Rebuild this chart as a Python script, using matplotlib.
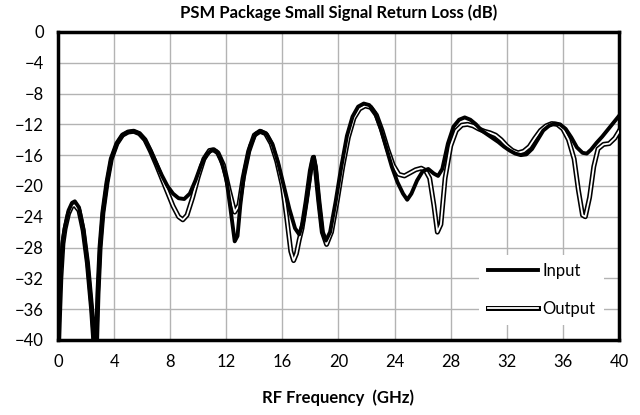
import matplotlib
matplotlib.use('Agg')
import matplotlib.pyplot as plt
import matplotlib.patheffects as pe

plt.rcParams['font.family'] = ['Lato', 'DejaVu Sans']

# Input return loss (dB) vs frequency (GHz)
freq_in = [0.05, 0.1, 0.2, 0.35, 0.5, 0.75, 1.0, 1.2, 1.5, 1.8, 2.1, 2.4, 2.55,
           2.75, 2.85, 3.0, 3.2, 3.5, 3.8, 4.2, 4.6, 5.0, 5.4, 5.8, 6.2, 6.6,
           7.0, 7.4, 7.8, 8.2, 8.6, 9.0, 9.4, 9.8, 10.2, 10.6, 11.0, 11.3, 11.6,
           12.0, 12.3, 12.6, 12.8, 13.0, 13.3, 13.7, 14.1, 14.5, 14.9, 15.3,
           15.7, 16.1, 16.5, 16.9, 17.2, 17.5, 17.8, 18.1, 18.25, 18.4, 18.6,
           18.85, 19.1, 19.4, 19.8, 20.2, 20.6, 21.0, 21.4, 21.8, 22.2, 22.6,
           23.0, 23.4, 23.8, 24.2, 24.6, 24.9, 25.2, 25.6, 26.0, 26.4, 26.8,
           27.1, 27.4, 27.8, 28.2, 28.6, 29.0, 29.4, 29.8, 30.2, 30.6, 31.0,
           31.4, 31.8, 32.2, 32.6, 33.0, 33.4, 33.8, 34.2, 34.6, 35.0, 35.4,
           35.8, 36.2, 36.6, 37.0, 37.4, 37.7, 38.0, 38.4, 38.8, 39.2, 39.6, 40.0]
input_db = [-40, -36, -31, -27, -25.3, -23.2, -22.2, -22.0, -22.8, -25.5, -30, -36, -40,
            -40, -34, -28, -23.5, -19.5, -16.5, -14.5, -13.4, -13.0, -12.9, -13.2, -14.0, -15.4,
            -17.0, -18.6, -20.0, -21.0, -21.6, -21.7, -21.0, -19.3, -17.3, -15.9, -15.3, -15.5, -16.5,
            -19.0, -23.0, -27.2, -26.5, -22.5, -18.0, -14.8, -13.2, -12.9, -13.3, -14.6,
            -17.0, -20.0, -23.0, -25.5, -26.3, -24.5, -21.0, -17.0, -16.2, -18.0, -22.0,
            -26.0, -27.1, -26.0, -22.0, -17.5, -13.5, -11.0, -9.7, -9.3, -9.5, -10.5,
            -12.5, -15.0, -17.5, -19.5, -21.0, -21.8, -21.0, -19.3, -18.1, -17.8, -18.4,
            -18.7, -17.8, -14.5, -12.3, -11.4, -11.1, -11.4, -12.0, -12.8, -13.3, -13.8,
            -14.3, -14.9, -15.4, -15.8, -16.0, -15.9, -15.2, -14.0, -12.8, -12.2, -11.9,
            -12.0, -12.6, -13.7, -15.0, -15.7, -15.8, -15.3, -14.4, -13.6, -12.7, -11.8, -10.9]

# Output return loss (dB) vs frequency (GHz)
freq_out = [0.05, 0.1, 0.2, 0.35, 0.5, 0.75, 1.0, 1.2, 1.5, 1.8, 2.1, 2.4, 2.55,
            2.75, 2.85, 3.0, 3.2, 3.5, 3.8, 4.2, 4.6, 5.0, 5.4, 5.8, 6.2, 6.6,
            7.0, 7.4, 7.8, 8.2, 8.6, 8.9, 9.2, 9.6, 10.0, 10.4, 10.8, 11.1, 11.4,
            11.8, 12.2, 12.6, 12.9, 13.2, 13.6, 14.0, 14.4, 14.8, 15.2, 15.6,
            16.0, 16.3, 16.6, 16.8, 17.0, 17.2, 17.4, 17.7, 18.0, 18.2, 18.35,
            18.6, 18.85, 19.15, 19.5, 19.9, 20.3, 20.7, 21.1, 21.5, 21.9, 22.3,
            22.7, 23.1, 23.5, 23.9, 24.3, 24.7, 25.1, 25.5, 25.9, 26.2, 26.5,
            26.8, 27.05, 27.3, 27.6, 28.0, 28.4, 28.8, 29.2, 29.6, 30.0, 30.4,
            30.8, 31.2, 31.6, 32.0, 32.4, 32.8, 33.2, 33.6, 34.0, 34.4, 34.8,
            35.2, 35.6, 36.0, 36.4, 36.8, 37.1, 37.4, 37.6, 37.9, 38.2, 38.5,
            38.9, 39.3, 39.7, 40.0]
output_db = [-40, -37, -32, -27.5, -25.6, -23.6, -22.6, -22.5, -23.2, -25.8, -30, -36, -40,
             -40, -34, -28, -23.5, -19.5, -16.5, -14.5, -13.4, -13.0, -12.9, -13.2, -14.0, -15.5,
             -17.2, -19.0, -20.8, -22.6, -24.0, -24.4, -23.8, -21.5, -18.8, -16.5, -15.4, -15.3, -15.7,
             -17.3, -20.5, -23.4, -22.5, -19.0, -15.5, -13.4, -12.9, -13.2, -14.5, -16.8,
             -20.0, -24.0, -28.5, -29.7, -28.8, -27.0, -25.5, -22.0, -18.0, -16.3, -17.5,
             -22.0, -26.0, -27.6, -26.0, -22.0, -17.5, -13.7, -11.2, -10.0, -9.6, -9.8,
             -10.8, -12.8, -15.2, -17.3, -18.5, -18.7, -18.3, -17.9, -17.7, -18.0, -19.0,
             -22.5, -26.0, -25.0, -19.0, -14.8, -12.8, -12.1, -12.0, -12.2, -12.6, -12.9,
             -13.1, -13.4, -14.0, -14.8, -15.4, -15.7, -15.5, -14.9, -13.8, -12.8, -12.2,
             -11.9, -12.0, -12.6, -14.0, -16.5, -20.5, -23.8, -24.0, -21.5, -17.5, -15.2,
             -14.6, -14.5, -13.8, -12.9]

fig = plt.figure(figsize=(6.4, 4.15), dpi=100)
ax = fig.add_axes([0.0906, 0.181, 0.8766, 0.742])

ax.plot(freq_in, input_db, color='black', linewidth=2.8, label='Input', zorder=4)
ax.plot(freq_out, output_db, color='white', linewidth=1.3, label='Output', zorder=3,
        path_effects=[pe.Stroke(linewidth=3.6, foreground='black'), pe.Normal()])

ax.set_xlim(0, 40)
ax.set_ylim(-40, 0)
ax.set_xticks(range(0, 41, 4))
ax.set_yticks(range(-40, 1, 4))
ax.grid(True, color='#b3b3b3', linewidth=1.0)
ax.set_axisbelow(True)
ax.tick_params(length=0, labelsize=12, pad=10)
for s in ax.spines.values():
    s.set_linewidth(2.5)

ax.set_title('PSM Package Small Signal Return Loss (dB)', fontsize=12, fontweight='bold', pad=10)
ax.set_xlabel('RF Frequency  (GHz)', fontsize=12, fontweight='bold', labelpad=14)

leg = ax.legend(loc='lower right', frameon=True, fontsize=12, handlelength=3.0,
                handletextpad=0.3, labelspacing=1.3, borderaxespad=0.9,
                borderpad=0.5)
leg.get_frame().set_edgecolor('none')
leg.get_frame().set_facecolor('white')
leg.get_frame().set_alpha(1)

fig.savefig('out.png', dpi=100)
